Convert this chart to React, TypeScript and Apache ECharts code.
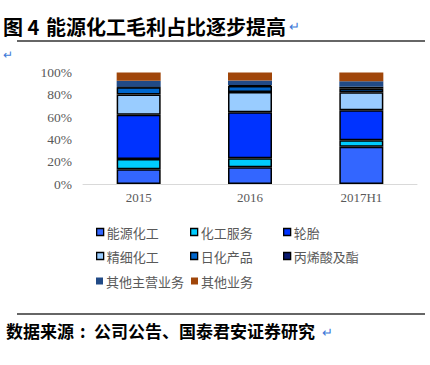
import React, { useEffect, useRef } from "react";
import * as echarts from "echarts";

const categories = ["2015", "2016", "2017H1"];
const seriesNames = ["能源化工", "化工服务", "轮胎", "精细化工", "日化产品", "丙烯酸及酯", "其他主营业务", "其他业务"];
const energy = [13.2, 15.0, 33.5];
const service = [9.3, 8.1, 5.7];
const tire = [39.5, 41.3, 26.9];
const fine = [18.2, 18.2, 16.1];
const daily = [6.6, 5.4, 3.3];
const acrylic = [0.5, 0.9, 1.8];
const otherMain = [5.4, 3.9, 4.8];
const other = [7.3, 7.2, 7.9];
const yTicks = [0, 20, 40, 60, 80, 100];

const seriesValues = [energy, service, tire, fine, daily, acrylic, otherMain, other];
const colors = ["#3366FF", "#00CCFF", "#0033FF", "#99CCFF", "#0066CC", "#0A1A70", "#214A86", "#A0460A"];
const bordered = [true, true, true, true, true, true, false, false];
const legendPos = [
  [96, 233.5], [190, 233.5], [283, 233.5],
  [96, 257.5], [190, 257.5], [283, 257.5],
  [96, 282.5], [191, 282.5],
];

const CJK = '"Noto Sans CJK SC", sans-serif';
const SERIF = '"Liberation Serif", "DejaVu Serif", serif';

export default function App() {
  const ref = useRef<HTMLDivElement>(null);
  useEffect(() => {
    if (!ref.current) return;
    const chart = echarts.init(ref.current, undefined, { renderer: "svg" });
    const series = seriesNames.map((name, i) => ({
      name,
      type: "bar",
      stack: "total",
      barWidth: 44,
      data: seriesValues[i],
      itemStyle: {
        color: colors[i],
        borderColor: bordered[i] ? "#000" : colors[i],
        borderWidth: bordered[i] ? 1.5 : 0,
      },
    }));
    const legends = seriesNames.map((name, i) => ({
      left: legendPos[i][0],
      top: legendPos[i][1] - 8,
      padding: 0,
      itemWidth: 7,
      itemHeight: 7,
      itemGap: 0,
      selectedMode: false,
      data: [
        {
          name,
          icon: "rect",
          itemStyle: {
            color: colors[i],
            borderColor: bordered[i] ? "#000" : colors[i],
            borderWidth: bordered[i] ? 1.3 : 0,
          },
        },
      ],
      textStyle: { color: "#595959", fontSize: 13, fontFamily: CJK, padding: [0, 0, 0, -2] },
    }));
    chart.setOption({
      animation: false,
      grid: { left: 83, right: 13, top: 72.5, bottom: 181, containLabel: false },
      legend: legends,
      xAxis: {
        type: "category",
        data: categories,
        axisLine: { lineStyle: { color: "#D9D9D9", width: 1 } },
        axisTick: { show: false },
        axisLabel: { color: "#595959", fontSize: 13, fontFamily: SERIF, margin: 7 },
      },
      yAxis: {
        type: "value",
        min: yTicks[0],
        max: yTicks[yTicks.length - 1],
        interval: 20,
        splitLine: { show: false },
        axisLine: { show: false },
        axisTick: { show: false },
        axisLabel: { color: "#595959", fontSize: 13.5, fontFamily: SERIF, formatter: "{value}%", margin: 11 },
      },
      series,
      graphic: [
        { type: "text", left: 3, top: 16, style: { text: "图 4", fontSize: 20, fontWeight: "bold", fontFamily: CJK, fill: "#000" } },
        { type: "text", left: 46, top: 16, style: { text: "能源化工毛利占比逐步提高", fontSize: 20, fontWeight: "bold", fontFamily: CJK, fill: "#000" } },
        { type: "text", left: 289, top: 19, style: { text: "↵", fontSize: 13, fontFamily: CJK, fill: "#3C78D8" } },
        { type: "line", shape: { x1: 17, y1: 41, x2: 425, y2: 41 }, style: { stroke: "#333", lineWidth: 1.3 } },
        { type: "text", left: 3, top: 47, style: { text: "↵", fontSize: 12, fontFamily: CJK, fill: "#3C78D8" } },
        { type: "line", shape: { x1: 17, y1: 314, x2: 425, y2: 314 }, style: { stroke: "#333", lineWidth: 1.3 } },
        { type: "text", left: 6, top: 322, style: { text: "数据来源", fontSize: 17, fontWeight: "bold", fontFamily: CJK, fill: "#000" } },
        { type: "text", left: 80, top: 322, style: { text: ":", fontSize: 17, fontWeight: "bold", fontFamily: CJK, fill: "#000" } },
        { type: "text", left: 94, top: 322, style: { text: "公司公告、国泰君安证券研究", fontSize: 17, fontWeight: "bold", fontFamily: CJK, fill: "#000" } },
        { type: "text", left: 322, top: 325, style: { text: "↵", fontSize: 13, fontFamily: CJK, fill: "#3C78D8" } },
      ],
    });
    return () => chart.dispose();
  }, []);
  return (
    <div
      ref={ref}
      style={{ position: "fixed", left: 0, top: 0, width: 430, height: 365, background: "#fff" }}
    />
  );
}
